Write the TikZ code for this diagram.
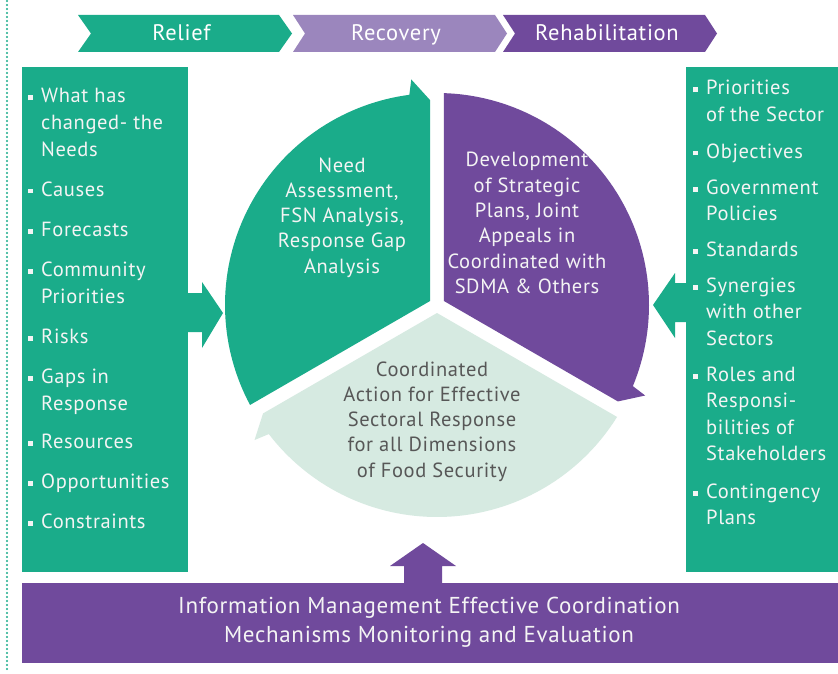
\documentclass[tikz,border=0pt]{standalone}
\usepackage{fontspec}
\setmainfont{PT Sans}[LetterSpace=3]

\definecolor{teal1}{HTML}{1AAC8A}
\definecolor{plum}{HTML}{704A9C}
\definecolor{lilac}{HTML}{9B86BD}
\definecolor{mint}{HTML}{D6EAE1}
\definecolor{greytext}{HTML}{575757}
\definecolor{paper}{HTML}{F4F4F4}

% font size / baseline skip in one go
\newcommand\fsz[2]{\fontsize{#1}{#2}\selectfont}
% top-aligned stack of lines, baseline = first line
\newcommand\stack[2]{\begin{tabular}[t]{@{}#1@{}}#2\end{tabular}}
% small square bullet
\newcommand\sqb{\rule[2.5pt]{5pt}{5pt}\hspace{8pt}}

\tikzset{
  phase/.style={fill=#1, draw=none},
  phasetext/.style={text=white, font=\fsz{22.5}{27}, anchor=base, inner sep=0pt},
  cyctext/.style={font=\fsz{20.5}{25.3}, anchor=base, inner sep=0pt},
  listtext/.style={text=paper, font=\fsz{20.5}{#1}, anchor=base west, inner sep=0pt},
  bartext/.style={text=paper, font=\fsz{23}{29}, anchor=base, inner sep=0pt},
}

\begin{document}
\begin{tikzpicture}[x=1pt, y=-1pt]
\fill[white] (0,0) rectangle (838,674);
\useasboundingbox (0,0) rectangle (838,674);

% dotted rule on the left
\draw[teal1, line width=2.2pt, line cap=round, dash pattern=on 0pt off 4pt] (7,1) -- (7,672);

% phase chevrons
\fill[phase=teal1] (78,15) -- (279,15) -- (292,33.5) -- (279,52) -- (78,52) -- (91,33.5) -- cycle;
\fill[phase=lilac] (293,15) -- (495,15) -- (507,33.5) -- (495,52) -- (293,52) -- (305,33.5) -- cycle;
\fill[phase=plum] (503,15) -- (705,15) -- (717,33.5) -- (705,52) -- (503,52) -- (515,33.5) -- cycle;
\node[phasetext] (relief) at (181.5,41) {Relief};
\node[phasetext] (recovery) at (396,41) {Recovery};
\node[phasetext] (rehab) at (607,41) {Rehabilitation};

% left panel with its arrow
\fill[teal1] (22,67) rectangle (188,572);
\fill[teal1] (187,293) -- (202,293) -- (202,282) -- (223,313) -- (202,348) -- (202,332) -- (187,332) -- cycle;

% right panel with its arrow
\fill[teal1] (686,67) rectangle (838,572);
\fill[teal1] (687,283) -- (675,283) -- (675,273) -- (653,305) -- (675,338) -- (675,322) -- (687,322) -- cycle;

% bottom bar with its arrow
\fill[plum] (22,583) rectangle (838,663);
\fill[plum] (404,584) -- (404,566) -- (390,566) -- (423,543) -- (456,566) -- (442,566) -- (442,584) -- cycle;

% three-part cycle
\begin{scope}[shift={(437,305)}]
  \fill[teal1] (210:8) -- (151.87:212) -- plot[domain=151.87:262.5, samples=70] (\x:212)
      -- (263.5:227) -- (268.06:205) -- cycle;
  \fill[plum] (330:8) -- (271.87:212) -- plot[domain=271.87:382.5, samples=70] (\x:212)
      -- (383.5:227) -- (388.06:205) -- cycle;
  \fill[mint] (90:8) -- (31.87:212) -- plot[domain=31.87:142.5, samples=70] (\x:212)
      -- (143.5:227) -- (148.06:205) -- cycle;
\end{scope}

\node[cyctext, text=paper] (need) at (342,172)
  {\stack{c}{Need\\Assessment,\\FSN Analysis,\\Response Gap\\Analysis}};
\node[cyctext, text=paper] (plans) at (527,167)
  {\stack{c}{Development\\of Strategic\\Plans, Joint\\Appeals in\\Coordinated with\\SDMA \& Others}};
\node[cyctext, text=greytext] (action) at (432,376)
  {\stack{c}{Coordinated\\Action for Effective\\Sectoral Response\\for all Dimensions\\of Food Security}};

% left list
\node[listtext=27] (l1) at (28,103) {\sqb\stack{l}{What has\\changed- the\\Needs}};
\node[listtext=27] (l2) at (28,196) {\sqb\stack{l}{Causes}};
\node[listtext=27] (l3) at (28,236) {\sqb\stack{l}{Forecasts}};
\node[listtext=27] (l4) at (28,276) {\sqb\stack{l}{Community\\Priorities}};
\node[listtext=27] (l5) at (28,343) {\sqb\stack{l}{Risks}};
\node[listtext=27] (l6) at (28,383) {\sqb\stack{l}{Gaps in\\Response}};
\node[listtext=27] (l7) at (28,448) {\sqb\stack{l}{Resources}};
\node[listtext=27] (l8) at (28,488) {\sqb\stack{l}{Opportunities}};
\node[listtext=27] (l9) at (28,528) {\sqb\stack{l}{Constraints}};

% right list
\node[listtext=26.5] (r1) at (693,95) {\sqb\stack{l}{Priorities\\of the Sector}};
\node[listtext=26.5] (r2) at (693,158) {\sqb\stack{l}{Objectives}};
\node[listtext=26.5] (r3) at (693,194) {\sqb\stack{l}{Government\\Policies}};
\node[listtext=26.5] (r4) at (693,256) {\sqb\stack{l}{Standards}};
\node[listtext=26.5] (r5) at (693,292) {\sqb\stack{l}{Synergies\\with other\\Sectors}};
\node[listtext=26.5] (r6) at (693,381) {\sqb\stack{l}{Roles and\\Responsi-\\bilities of\\Stakeholders}};
\node[listtext=26.5] (r7) at (693,498) {\sqb\stack{l}{Contingency\\Plans}};

% bottom bar text
\node[bartext] (info) at (429,613)
  {\stack{c}{Information Management Effective Coordination\\Mechanisms Monitoring and Evaluation}};
\end{tikzpicture}
\end{document}
